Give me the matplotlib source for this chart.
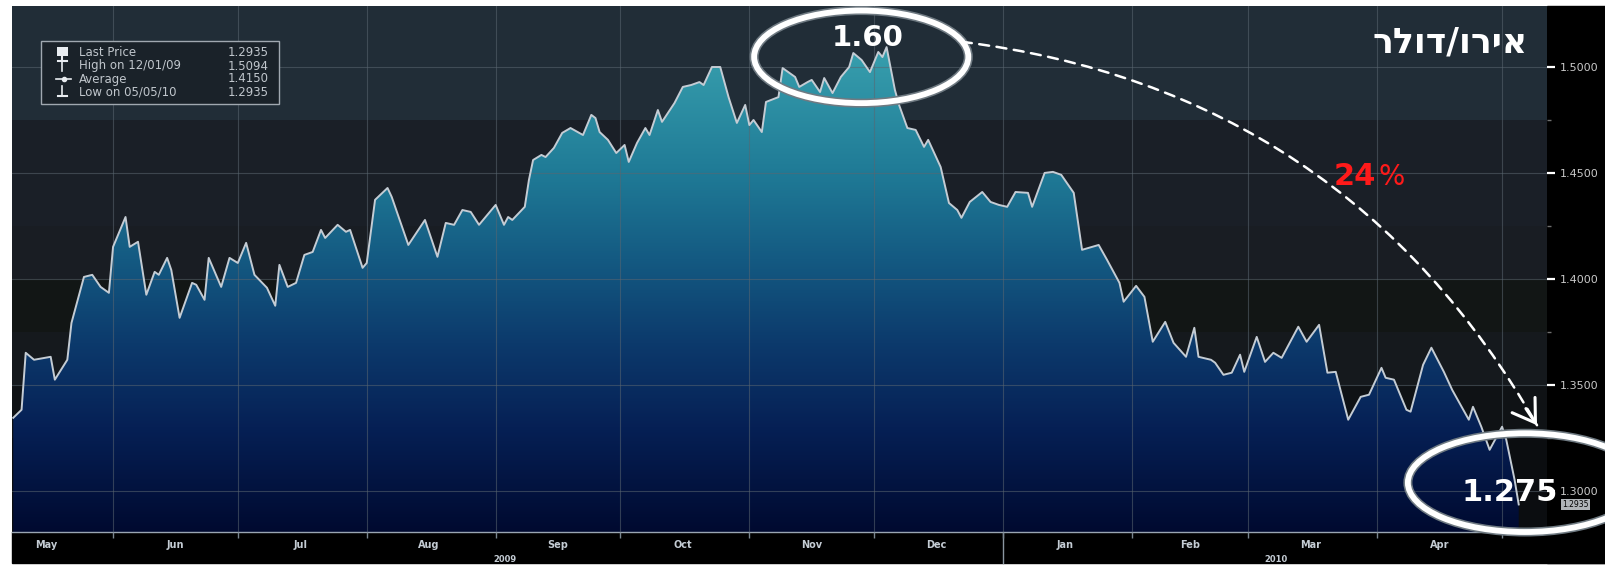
import numpy as np
import matplotlib
matplotlib.use('Agg')
import matplotlib.pyplot as plt
import matplotlib.dates as mdates
from matplotlib.patches import Ellipse, Rectangle, Polygon
from matplotlib.colors import LinearSegmentedColormap
from matplotlib.lines import Line2D
from matplotlib.ticker import FixedLocator, FixedFormatter, FormatStrFormatter

plt.rcParams['font.family'] = ['DejaVu Sans']

# ---------------- data ----------------
dates = [
    '2009-05-08', '2009-05-10', '2009-05-11', '2009-05-13', '2009-05-17', '2009-05-18',
    '2009-05-21', '2009-05-22', '2009-05-25', '2009-05-27', '2009-05-29', '2009-05-31',
    '2009-06-01', '2009-06-04', '2009-06-05', '2009-06-07', '2009-06-09', '2009-06-11',
    '2009-06-12', '2009-06-14', '2009-06-15', '2009-06-17', '2009-06-20', '2009-06-21',
    '2009-06-23', '2009-06-24', '2009-06-27', '2009-06-29', '2009-07-01', '2009-07-03',
    '2009-07-05', '2009-07-08', '2009-07-10', '2009-07-11', '2009-07-13', '2009-07-15',
    '2009-07-17', '2009-07-19', '2009-07-21', '2009-07-22', '2009-07-25', '2009-07-27',
    '2009-07-28', '2009-07-31', '2009-08-01', '2009-08-03', '2009-08-06', '2009-08-07',
    '2009-08-11', '2009-08-15', '2009-08-18', '2009-08-20', '2009-08-22', '2009-08-24',
    '2009-08-26', '2009-08-28', '2009-09-01', '2009-09-03', '2009-09-04', '2009-09-05',
    '2009-09-08', '2009-09-09', '2009-09-10', '2009-09-12', '2009-09-13', '2009-09-15',
    '2009-09-17', '2009-09-19', '2009-09-22', '2009-09-24', '2009-09-25', '2009-09-26',
    '2009-09-28', '2009-09-30', '2009-10-02', '2009-10-03', '2009-10-05', '2009-10-07',
    '2009-10-08', '2009-10-10', '2009-10-11', '2009-10-14', '2009-10-16', '2009-10-18',
    '2009-10-20', '2009-10-21', '2009-10-23', '2009-10-25', '2009-10-27', '2009-10-29',
    '2009-10-31', '2009-11-01', '2009-11-02', '2009-11-04', '2009-11-05', '2009-11-08',
    '2009-11-09', '2009-11-12', '2009-11-13', '2009-11-15', '2009-11-16', '2009-11-18',
    '2009-11-19', '2009-11-21', '2009-11-23', '2009-11-25', '2009-11-26', '2009-11-28',
    '2009-11-30', '2009-12-02', '2009-12-03', '2009-12-04', '2009-12-06', '2009-12-07',
    '2009-12-09', '2009-12-11', '2009-12-13', '2009-12-14', '2009-12-17', '2009-12-19',
    '2009-12-21', '2009-12-22', '2009-12-24', '2009-12-27', '2009-12-29', '2009-12-31',
    '2010-01-02', '2010-01-04', '2010-01-07', '2010-01-08', '2010-01-11', '2010-01-13',
    '2010-01-15', '2010-01-18', '2010-01-20', '2010-01-24', '2010-01-26', '2010-01-29',
    '2010-01-30', '2010-02-02', '2010-02-04', '2010-02-06', '2010-02-09', '2010-02-11',
    '2010-02-14', '2010-02-16', '2010-02-17', '2010-02-20', '2010-02-21', '2010-02-23',
    '2010-02-25', '2010-02-27', '2010-02-28', '2010-03-03', '2010-03-05', '2010-03-07',
    '2010-03-09', '2010-03-13', '2010-03-15', '2010-03-18', '2010-03-20', '2010-03-22',
    '2010-03-25', '2010-03-28', '2010-03-30', '2010-04-02', '2010-04-03', '2010-04-05',
    '2010-04-08', '2010-04-09', '2010-04-12', '2010-04-14', '2010-04-17', '2010-04-19',
    '2010-04-23', '2010-04-24', '2010-04-26', '2010-04-28', '2010-05-01', '2010-05-02',
    '2010-05-04', '2010-05-05',
]
prices = [
    1.3344, 1.3382, 1.3651, 1.3618, 1.3632, 1.3524,
    1.3618, 1.3792, 1.4009, 1.4019, 1.3962, 1.3934,
    1.4151, 1.4292, 1.4151, 1.4175, 1.3925, 1.4033,
    1.4019, 1.4099, 1.4042, 1.3816, 1.3981, 1.3972,
    1.3901, 1.4099, 1.3962, 1.4099, 1.4075, 1.4170,
    1.4019, 1.3958, 1.3873, 1.4066, 1.3962, 1.3981,
    1.4113, 1.4127, 1.4231, 1.4193, 1.4255, 1.4222,
    1.4231, 1.4052, 1.4075, 1.4373, 1.4429, 1.4387,
    1.4160, 1.4278, 1.4104, 1.4264, 1.4255, 1.4325,
    1.4316, 1.4255, 1.4349, 1.4255, 1.4292, 1.4278,
    1.4340, 1.4467, 1.4561, 1.4585, 1.4575, 1.4618,
    1.4689, 1.4712, 1.4679, 1.4774, 1.4759, 1.4693,
    1.4656, 1.4594, 1.4632, 1.4552, 1.4642, 1.4712,
    1.4679, 1.4797, 1.4741, 1.4830, 1.4906, 1.4915,
    1.4929, 1.4915, 1.5000, 1.5000, 1.4858, 1.4736,
    1.4821, 1.4726, 1.4750, 1.4693, 1.4835, 1.4858,
    1.4995, 1.4953, 1.4906, 1.4929, 1.4939, 1.4882,
    1.4948, 1.4877, 1.4953, 1.5000, 1.5066, 1.5033,
    1.4976, 1.5071, 1.5047, 1.5094, 1.4892, 1.4821,
    1.4712, 1.4703, 1.4623, 1.4656, 1.4528, 1.4358,
    1.4325, 1.4288, 1.4363, 1.4410, 1.4363, 1.4349,
    1.4340, 1.4410, 1.4406, 1.4340, 1.4500, 1.4505,
    1.4491, 1.4406, 1.4137, 1.4160, 1.4090, 1.3981,
    1.3892, 1.3967, 1.3915, 1.3703, 1.3797, 1.3698,
    1.3632, 1.3769, 1.3632, 1.3618, 1.3604, 1.3547,
    1.3557, 1.3642, 1.3561, 1.3726, 1.3608, 1.3651,
    1.3627, 1.3774, 1.3703, 1.3783, 1.3557, 1.3561,
    1.3335, 1.3443, 1.3453, 1.3580, 1.3533, 1.3524,
    1.3382, 1.3373, 1.3594, 1.3675, 1.3561, 1.3476,
    1.3335, 1.3396, 1.3302, 1.3193, 1.3302, 1.3241,
    1.3052, 1.2935,
]

title_he = "אירו/דולר"
peak_label = "1.60"
end_label = "1.275"
drop_number = "24"
drop_sign = "%"
month_starts = ['2009-06-01', '2009-07-01', '2009-08-01', '2009-09-01', '2009-10-01',
                '2009-11-01', '2009-12-01', '2010-01-01', '2010-02-01', '2010-03-01',
                '2010-04-01', '2010-05-01']
month_mids = ['2009-05-16', '2009-06-16', '2009-07-16', '2009-08-16', '2009-09-16',
              '2009-10-16', '2009-11-16', '2009-12-16', '2010-01-16', '2010-02-15',
              '2010-03-16', '2010-04-16']
month_labels = ['May', 'Jun', 'Jul', 'Aug', 'Sep', 'Oct', 'Nov', 'Dec', 'Jan', 'Feb', 'Mar', 'Apr']
year_labels = ['2009', '2010']
year_boundary = '2010-01-01'
legend_names = ['Last Price', 'High on 12/01/09', 'Average', 'Low on 05/05/10']
legend_values = ['1.2935', '1.5094', '1.4150', '1.2935']
last_price_tag = '1.2935'
y_ticks = [1.30, 1.35, 1.40, 1.45, 1.50]
y_minor = [1.325, 1.375, 1.425, 1.475]

# ---------------- figure / layout ----------------
W, H = 1605, 571
fig = plt.figure(figsize=(W / 100, H / 100), dpi=100)
fig.patch.set_facecolor('white')


def fx(px):
    return px / W


def fy(py):
    return 1 - py / H


# black frame strips (right price axis & bottom date axis)
fig.add_artist(Rectangle((fx(1547), fy(563)), 1 - fx(1547), fy(6) - fy(563),
                         transform=fig.transFigure, color='black', zorder=-1))
fig.add_artist(Rectangle((fx(12), fy(563)), 1 - fx(12), fy(532) - fy(563),
                         transform=fig.transFigure, color='black', zorder=-1))

ax = fig.add_axes([fx(12), fy(532), fx(1547) - fx(12), fy(6) - fy(532)])

x = mdates.date2num(np.array(dates, dtype='datetime64[D]'))
y = np.array(prices)
day0 = mdates.date2num(np.datetime64('2009-06-01'))
xl0, xl1 = day0 - 24.3, day0 + 344.8
yl0, yl1 = 1.2805, 1.5288

# background bands
bands = [(1.475, 1.60, '#212d37'), (1.425, 1.475, '#1a1f27'), (1.40, 1.425, '#191d23'),
         (1.375, 1.40, '#121615'), (1.35, 1.375, '#15191d'), (1.325, 1.35, '#0f1215'),
         (1.20, 1.325, '#0b0d10')]
for lo, hi, c in bands:
    ax.axhspan(lo, hi, color=c, lw=0, zorder=0)

# gradient area fill clipped to the price curve
verts = [(x[0], yl0)] + list(zip(x, y)) + [(x[-1], yl0)]
poly = Polygon(verts, closed=True, fill=False, lw=0, transform=ax.transData)
ax.add_patch(poly)
cmap = LinearSegmentedColormap.from_list('fx', [
    (0.0, '#000a30'), (0.21, '#062055'), (0.38, '#0c3a6c'), (0.55, '#145a82'),
    (0.72, '#1f7a96'), (1.0, '#3aa3b0')])
grad = np.linspace(0, 1, 256).reshape(-1, 1)
im = ax.imshow(grad, extent=[xl0, xl1, yl0, 1.515], origin='lower', aspect='auto',
               cmap=cmap, zorder=2, interpolation='bilinear')
im.set_clip_path(poly)

ax.plot(x, y, color='#c4ccd4', lw=1.4, zorder=4, solid_joinstyle='round')

ax.set_xlim(xl0, xl1)
ax.set_ylim(yl0, yl1)

# grid & ticks
ms = mdates.date2num(np.array(month_starts, dtype='datetime64[D]'))
mm = mdates.date2num(np.array(month_mids, dtype='datetime64[D]'))
ax.xaxis.set_major_locator(FixedLocator(ms))
ax.xaxis.set_minor_locator(FixedLocator(mm))
ax.xaxis.set_major_formatter(FixedFormatter([''] * len(ms)))
ax.xaxis.set_minor_formatter(FixedFormatter(month_labels))
ax.tick_params(axis='x', which='major', length=4, width=1, color='#7a8690', direction='out')
ax.tick_params(axis='x', which='minor', length=0, pad=6, labelsize=7, labelcolor='#c4ccd4')
for lab in ax.xaxis.get_minorticklabels():
    lab.set_fontweight('bold')

ax.yaxis.tick_right()
ax.set_yticks(y_ticks)
ax.yaxis.set_minor_locator(FixedLocator(y_minor))
ax.yaxis.set_major_formatter(FormatStrFormatter('%.4f'))
ax.tick_params(axis='y', which='major', length=6, width=1.6, color='white', pad=3,
               labelsize=8, labelcolor='#c8c8c8')
ax.tick_params(axis='y', which='minor', length=3, width=1, color='#707070')

ax.set_axisbelow(False)
ax.grid(axis='y', which='major', color='#5a6670', lw=0.8, alpha=0.55)
ax.grid(axis='x', which='major', color='#5a6670', lw=0.8, alpha=0.55)

for s in ['top', 'left', 'right']:
    ax.spines[s].set_visible(False)
ax.spines['bottom'].set_color('#9aa6b2')
ax.spines['bottom'].set_linewidth(1.0)

# year boundary tick & year labels
yb = mdates.date2num(np.datetime64(year_boundary))
ax.axvline(yb, ymin=-31 / 526, ymax=0, clip_on=False, color='#8a96a0', lw=1)
fig.text(fx(505), fy(560), year_labels[0], ha='center', va='center', fontsize=6,
         fontweight='bold', color='#c4ccd4')
fig.text(fx(1276), fy(560), year_labels[1], ha='center', va='center', fontsize=6,
         fontweight='bold', color='#c4ccd4')

# last price tag on the price axis
ax.text(1.0098, 1.2935, last_price_tag, transform=ax.get_yaxis_transform(), fontsize=5.5,
        color='black', va='center', ha='left', clip_on=False, zorder=5,
        bbox=dict(boxstyle='square,pad=0.15', fc='#b0b4b8', ec='none'))

# ---------------- annotations ----------------
for (cx, cy, w, h) in [(day0 + 179.9, 1.5048, 51.5, 0.0437), (day0 + 339.5, 1.3038, 56.3, 0.0466)]:
    ax.add_patch(Ellipse((cx, cy), w, h, fill=False, ec='#6f7a82', lw=6.5, zorder=6, clip_on=False))
    ax.add_patch(Ellipse((cx, cy), w, h, fill=False, ec='white', lw=4.2, zorder=7, clip_on=False))

ax.text(day0 + 181.5, 1.5138, peak_label, ha='center', va='center', fontsize=21,
        fontweight='bold', color='white', zorder=8)
ax.text(day0 + 335.9, 1.2991, end_label, ha='center', va='center', fontsize=22,
        fontweight='bold', color='white', zorder=8, clip_on=False)

ax.text(day0 + 303.8, 1.4481, drop_number, ha='right', va='center', fontsize=22,
        fontweight='bold', color='#ff1a1a', zorder=8)
ax.text(day0 + 304.4, 1.4481, drop_sign, ha='left', va='center', fontsize=20,
        fontweight='normal', color='#ff1a1a', zorder=8)

ax.text(day0 + 340.2, 1.5118, title_he[::-1], ha='right', va='center', fontsize=25,
        fontweight='bold', color='white', zorder=8)

start = (day0 + 204.1, 1.5119)
end = (day0 + 342.4, 1.3309)
ax.annotate('', xy=end, xytext=start, zorder=8, annotation_clip=False,
            arrowprops=dict(arrowstyle='-', color='white', lw=1.8, linestyle=(0, (4, 3)),
                            connectionstyle='arc3,rad=-0.25', shrinkA=0, shrinkB=0))
ax.annotate('', xy=end, xytext=(-8, 12), textcoords='offset points', zorder=8,
            annotation_clip=False,
            arrowprops=dict(arrowstyle='->,head_length=0.7,head_width=0.45', color='white',
                            lw=2.2, shrinkA=0, shrinkB=0, mutation_scale=22))

# ---------------- legend box ----------------
fig.add_artist(Rectangle((fx(41), fy(104)), fx(279) - fx(41), fy(41) - fy(104),
                         transform=fig.transFigure, fc='#1a2229', ec='#a0a8b0', lw=1, zorder=5))
rows = [53, 66, 79, 92]
for r, name, val in zip(rows, legend_names, legend_values):
    fig.text(fx(79), fy(r), name, ha='left', va='center', fontsize=8.5, color='#c0c6cc', zorder=6)
    fig.text(fx(269), fy(r), val, ha='right', va='center', fontsize=8.5, color='#c0c6cc', zorder=6)

tf = fig.transFigure
icon_c = '#e8ecf0'
# last price: square flag with stem
fig.add_artist(Rectangle((fx(57), fy(56)), fx(68) - fx(57), fy(47) - fy(56), transform=tf,
                         fc=icon_c, ec='none', zorder=6))
fig.add_artist(Line2D([fx(62.5), fx(62.5)], [fy(56), fy(60)], transform=tf, color=icon_c, lw=1.5, zorder=6))
# high: T
fig.add_artist(Line2D([fx(58), fx(67)], [fy(61), fy(61)], transform=tf, color=icon_c, lw=1.5, zorder=6))
fig.add_artist(Line2D([fx(62.5), fx(62.5)], [fy(61), fy(71)], transform=tf, color=icon_c, lw=1.2, zorder=6))
# average
fig.add_artist(Line2D([fx(56), fx(71)], [fy(79), fy(79)], transform=tf, color=icon_c, lw=1.2, zorder=6))
fig.add_artist(Line2D([fx(63.5)], [fy(79)], transform=tf, color=icon_c, marker='o', ms=3, zorder=6))
# low: inverted T
fig.add_artist(Line2D([fx(62.5), fx(62.5)], [fy(86), fy(96)], transform=tf, color=icon_c, lw=1.2, zorder=6))
fig.add_artist(Line2D([fx(58), fx(67)], [fy(96), fy(96)], transform=tf, color=icon_c, lw=1.5, zorder=6))

fig.savefig('out.png', dpi=100, facecolor=fig.get_facecolor())
